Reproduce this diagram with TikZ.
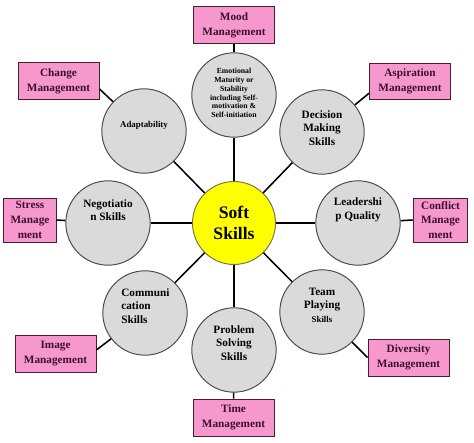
\documentclass[tikz,border=0pt]{standalone}
\usepackage{fontspec}
\setmainfont{Liberation Serif}
\usetikzlibrary{positioning}
\definecolor{skillgray}{RGB}{218,218,218}
\definecolor{mgmtpink}{RGB}{246,152,206}
\definecolor{softyellow}{RGB}{255,255,0}
\definecolor{boxedge}{RGB}{70,30,45}
\definecolor{boxtext}{RGB}{60,15,45}
\tikzset{
 sk core/.style={circle,fill=softyellow,draw=black!60!yellow,line width=0.7pt,
                 minimum size=59pt,inner sep=0pt,align=center,
                 font=\fontsize{12.5}{14.5}\selectfont\bfseries},
 sk circle/.style={circle,fill=skillgray,draw=black!70,line width=0.7pt,
                   minimum size=60pt,inner sep=0pt},
 sk text/.style={inner sep=0pt,align=center,
                 font=\fontsize{8}{9.6}\selectfont\bfseries},
 sk box/.style={rectangle,fill=mgmtpink,draw=boxedge,line width=0.7pt,
                minimum width=57.6pt,minimum height=26.3pt,inner sep=1pt,align=center,
                text=boxtext,font=\fontsize{8}{10.5}\selectfont\bfseries},
 sk spoke/.style={line width=1.1pt,black}
}
\begin{document}
\begin{tikzpicture}[x=0.025cm,y=0.025cm]
 \useasboundingbox (0,0) rectangle (474,442);
 \node[sk core] (core) at (234,219) {Soft\\Skills};

 \node[sk circle] (emo) at (234,347) {};
 \node[sk circle] (decision) at (322,310) {};
 \node[sk circle] (lead) at (358,219) {};
 \node[sk circle] (team) at (322,130) {};
 \node[sk circle] (prob) at (234,92) {};
 \node[sk circle] (comm) at (145,129) {};
 \node[sk circle] (nego) at (108,219) {};
 \node[sk circle] (adapt) at (144,311) {};

 \node[sk box] (mood) at (234,417) {Mood\\Management};
 \node[sk box] (change) at (58.5,361) {Change\\Management};
 \node[sk box] (aspire) at (410,360.5) {Aspiration\\Management};
 \node[sk box,minimum width=37pt,minimum height=31.3pt] (stress) at (30,222) {Stress\\Manage\\ment};
 \node[sk box,minimum width=39pt,minimum height=31.3pt] (conflict) at (440.5,222) {Conflict\\Manage\\ment};
 \node[sk box] (image) at (55.5,88.5) {Image\\Management};
 \node[sk box] (diverse) at (408.5,84.5) {Diversity\\Management};
 \node[sk box] (time) at (233.5,24.5) {Time\\Management};

 % spokes
 \foreach \s in {emo,decision,lead,team,prob,comm,nego,adapt}
  \draw[sk spoke] (core) -- (\s);
 \draw[sk spoke] (emo) -- (mood);
 \draw[sk spoke] (adapt) -- (change.-11);
 \draw[sk spoke] (decision) -- (aspire.196);
 \draw[sk spoke] (nego) -- (stress.east);
 \draw[sk spoke] (lead) -- (conflict.west);
 \draw[sk spoke] (comm) -- (image.5);
 \draw[sk spoke] (team) -- (diverse.180);
 \draw[sk spoke] (prob) -- (time);

 % circle labels
 \node[sk text,font=\fontsize{5.5}{6.2}\selectfont\bfseries] (emo-t) at (234,349)
  {Emotional\\Maturity or\\Stability\\including Self-\\motivation \&\\Self-initiation};
 \node[sk text] (decision-t) at (322,314) {Decision\\Making\\Skills};
 \node[sk text] (lead-t) at (358,232) {Leadershi\\p Quality};
 \node[sk text] (team-t) at (322,137) {Team\\Playing\\{\fontsize{6.3}{9.6}\selectfont Skills}};
 \node[sk text] (prob-t) at (234,99) {Problem\\Solving\\Skills};
 \node[sk text,align=left,anchor=west] (comm-t) at (121,136) {Communi\\cation\\Skills};
 \node[sk text] (nego-t) at (108,232) {Negotiatio\\n Skills};
 \node[sk text,font=\fontsize{6.3}{7.5}\selectfont\bfseries] (adapt-t) at (144,317) {Adaptability};
\end{tikzpicture}
\end{document}
